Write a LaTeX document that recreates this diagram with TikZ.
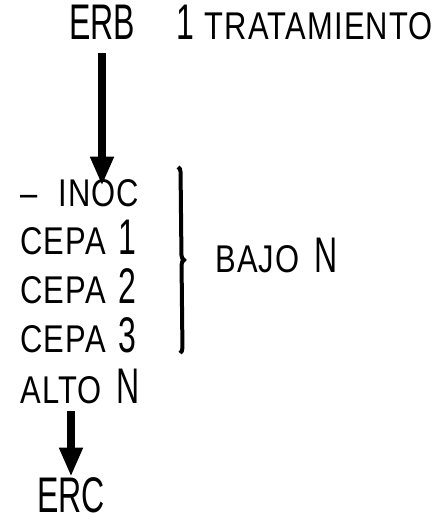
\documentclass[tikz,border=0pt]{standalone}
\usepackage{fontspec}
\usetikzlibrary{positioning,arrows.meta,decorations.pathreplacing}
\newfontfamily\labelfont[FakeStretch=0.64]{Liberation Sans}
\newfontfamily\wordfont[FakeStretch=0.8,LetterSpace=3]{Liberation Sans}
\newcommand{\bigt}{\labelfont\fontsize{28.5}{30}\selectfont}
\newcommand{\smallt}{\wordfont\fontsize{22}{24}\selectfont}
\tikzset{
  item/.style={inner sep=0pt, anchor=base west, font=\bigt},
  flow/.style={line width=0.18cm, -{Triangle[width=0.44cm,length=0.58cm]}},
  group/.style={line width=0.08cm, decorate, decoration={brace, amplitude=0.1cm}}
}
\begin{document}
\begin{tikzpicture}[x=0.02cm, y=-0.02cm]
           \useasboundingbox (0,0) rectangle (434,521);
           \node[item, anchor=base] (erb) at (102,39) {ERB};
           \node[item] (uno) at (176,39) {1};
           \node[item, right=0.2cm of uno.base east, anchor=base west] (trat) {\smallt TRATAMIENTO};

           \node[item] (inoc) at (20,206) {{\smallt \symbol{"2013}}\hspace{0.42cm}{\smallt INOC}};
           \node[item, below=0.98cm of inoc.base west, anchor=base west] (cepaa) {{\smallt CEPA}\hspace{0.25cm}1};
           \node[item, below=0.97cm of cepaa.base west, anchor=base west] (cepab) {{\smallt CEPA}\hspace{0.25cm}2};
           \node[item, below=0.98cm of cepab.base west, anchor=base west] (cepac) {{\smallt CEPA}\hspace{0.25cm}3};
           \node[item, below=1.02cm of cepac.base west, anchor=base west] (alto) {{\smallt ALTO}\hspace{0.3cm}N};
           \node[item, anchor=base] (erc) at (71,512) {ERC};

           \coordinate (bracetop) at (178,167);
           \coordinate (bracebot) at (180,353);
           \node[item] (bajo) at (215,272) {{\smallt BAJO}\hspace{0.3cm}N};

           \draw[flow, shorten <=0.28cm, shorten >=-0.14cm] (erb.south) -- (erb.south |- inoc.north);
           \draw[flow, shorten <=0.14cm] (erc.north |- alto.south) -- (erc.north);
           \draw[group] (bracetop) -- (bracebot);
       \end{tikzpicture}
\end{document}
